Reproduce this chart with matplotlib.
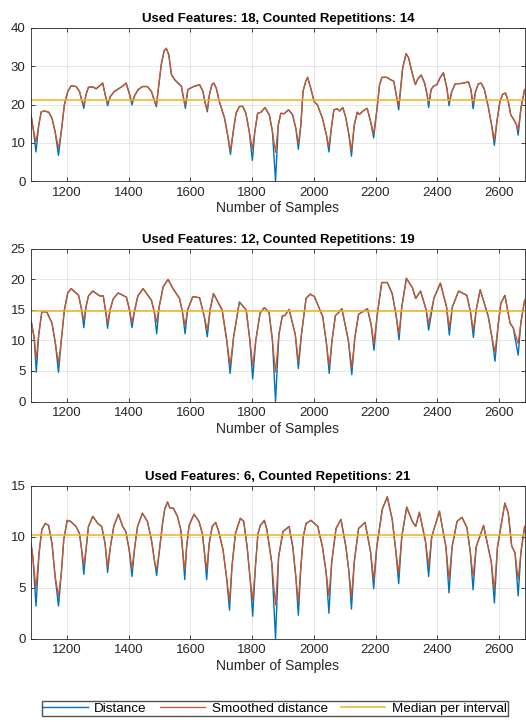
import matplotlib
matplotlib.use('agg')
from matplotlib import pyplot as plt

# panel 1: 18 features
p1_x = [1084, 1091, 1100, 1109, 1117, 1128, 1141, 1152, 1162, 1173, 1182, 1192, 1203, 1214,
        1230, 1241, 1248, 1255, 1262, 1270, 1284, 1295, 1305, 1316, 1324, 1332, 1341, 1354,
        1367, 1381, 1392, 1402, 1411, 1420, 1431, 1445, 1461, 1474, 1483, 1490, 1498, 1506,
        1515, 1522, 1530, 1539, 1549, 1560, 1571, 1579, 1584, 1592, 1608, 1630, 1641, 1648,
        1655, 1662, 1670, 1676, 1684, 1694, 1711, 1721, 1730, 1739, 1748, 1759, 1770, 1780,
        1791, 1801, 1809, 1818, 1829, 1842, 1856, 1866, 1876, 1885, 1893, 1904, 1918, 1931,
        1942, 1950, 1958, 1965, 1974, 1980, 1990, 2001, 2012, 2028, 2041, 2049, 2058, 2065,
        2076, 2084, 2094, 2103, 2114, 2122, 2131, 2141, 2148, 2159, 2173, 2184, 2194, 2205,
        2213, 2221, 2237, 2248, 2259, 2266, 2275, 2288, 2299, 2307, 2320, 2329, 2337, 2348,
        2359, 2367, 2372, 2380, 2388, 2399, 2409, 2420, 2431, 2438, 2447, 2458, 2479, 2501,
        2509, 2516, 2524, 2533, 2542, 2552, 2565, 2576, 2585, 2593, 2603, 2612, 2621, 2630,
        2638, 2649, 2657, 2662, 2671, 2683]
p1_smooth = [17.3, 13.7, 10.2, 14.6, 18.1, 18.3, 18.0, 16.4, 12.9, 8.5, 12.9, 19.9, 23.4, 24.9,
             24.7, 23.4, 21.2, 19.9, 22.6, 24.5, 24.6, 24.1, 24.8, 25.6, 22.6, 20.4, 22.1, 23.4,
             24.1, 24.8, 25.6, 23.0, 20.6, 22.4, 23.9, 24.7, 24.7, 23.4, 21.2, 19.9, 25.2, 30.5,
             34.0, 34.7, 33.1, 27.8, 26.5, 25.6, 24.8, 21.2, 19.9, 23.9, 24.6, 25.2, 23.4, 20.4,
             18.6, 22.6, 25.2, 25.6, 24.3, 20.8, 16.4, 12.0, 8.0, 12.9, 17.7, 19.5, 19.5, 17.7,
             12.9, 8.3, 12.9, 17.7, 18.0, 19.2, 17.3, 12.9, 7.5, 14.6, 17.7, 17.6, 18.6, 17.4,
             13.7, 9.8, 14.6, 23.4, 26.1, 27.1, 24.3, 20.8, 19.9, 16.4, 12.0, 8.9, 14.6, 18.6,
             18.9, 18.3, 19.2, 16.8, 12.0, 8.0, 14.6, 18.0, 17.4, 18.3, 19.0, 15.5, 12.4, 19.0,
             25.2, 27.1, 27.1, 26.5, 26.1, 23.0, 19.7, 29.6, 33.3, 32.2, 27.8, 25.2, 26.7, 27.7,
             25.6, 22.6, 20.6, 23.9, 24.8, 25.2, 27.0, 28.3, 24.3, 20.6, 23.4, 25.4, 25.5, 25.9,
             23.9, 20.4, 23.4, 25.4, 25.6, 24.1, 19.5, 14.6, 10.7, 15.5, 20.8, 22.7, 23.0, 20.8,
             17.3, 15.9, 14.6, 13.3, 19.0, 23.9]
p1_dist = [17.3, 13.7, 7.6, 14.6, 18.1, 18.3, 18.0, 16.4, 12.9, 6.7, 12.9, 19.9, 23.4, 24.9,
           24.7, 23.4, 21.2, 19.0, 22.6, 24.5, 24.6, 24.1, 24.8, 25.6, 22.6, 19.7, 22.1, 23.4,
           24.1, 24.8, 25.6, 23.0, 19.9, 22.4, 23.9, 24.7, 24.7, 23.4, 21.2, 19.4, 25.2, 30.5,
           34.0, 34.7, 33.1, 27.8, 26.5, 25.6, 24.8, 21.2, 19.0, 23.9, 24.6, 25.2, 23.4, 20.4,
           18.1, 22.6, 25.2, 25.6, 24.3, 20.8, 16.4, 12.0, 6.9, 12.9, 17.7, 19.5, 19.5, 17.7,
           12.9, 5.4, 12.9, 17.7, 18.0, 19.2, 17.3, 12.9, 0.0, 14.6, 17.7, 17.6, 18.6, 17.4,
           13.7, 8.3, 14.6, 23.4, 26.1, 27.1, 24.3, 20.8, 19.9, 16.4, 12.0, 7.6, 14.6, 18.6,
           18.9, 18.3, 19.2, 16.8, 12.0, 6.5, 14.6, 18.0, 17.4, 18.3, 19.0, 15.5, 11.3, 19.0,
           25.2, 27.1, 27.1, 26.5, 26.1, 23.0, 18.6, 29.6, 33.3, 32.2, 27.8, 25.2, 26.7, 27.7,
           25.6, 22.6, 19.2, 23.9, 24.8, 25.2, 27.0, 28.3, 24.3, 19.7, 23.4, 25.4, 25.5, 25.9,
           23.9, 18.9, 23.4, 25.4, 25.6, 24.1, 19.5, 14.6, 9.3, 15.5, 20.8, 22.7, 23.0, 20.8,
           17.3, 15.9, 14.6, 12.0, 19.0, 23.9]
p1_median = 21.2

# panel 2: 12 features
p2_x = [1085, 1094, 1101, 1109, 1119, 1135, 1152, 1163, 1173, 1182, 1192, 1203, 1214, 1238,
        1248, 1255, 1262, 1270, 1284, 1307, 1318, 1325, 1332, 1340, 1350, 1366, 1393, 1403,
        1411, 1420, 1430, 1447, 1474, 1484, 1491, 1499, 1512, 1528, 1544, 1565, 1575, 1583,
        1591, 1608, 1630, 1645, 1655, 1664, 1675, 1703, 1718, 1729, 1740, 1759, 1781, 1793,
        1802, 1812, 1826, 1840, 1855, 1866, 1876, 1887, 1898, 1906, 1920, 1940, 1950, 1960,
        1975, 1988, 2002, 2029, 2041, 2050, 2059, 2070, 2077, 2091, 2112, 2123, 2133, 2145,
        2174, 2186, 2195, 2205, 2220, 2238, 2254, 2267, 2276, 2285, 2300, 2319, 2330, 2346,
        2364, 2372, 2389, 2410, 2430, 2439, 2449, 2469, 2496, 2508, 2517, 2526, 2539, 2565,
        2577, 2587, 2597, 2606, 2619, 2636, 2646, 2662, 2671, 2683]
p2_smooth = [13.0, 10.5, 7.0, 11.0, 14.7, 14.7, 12.8, 9.5, 6.3, 10.0, 15.0, 17.8, 18.5, 17.4,
             15.0, 13.3, 15.5, 17.3, 18.1, 17.3, 17.3, 15.0, 12.8, 15.0, 16.8, 17.8, 17.1, 15.0,
             13.0, 15.0, 17.3, 18.5, 16.6, 14.5, 13.0, 15.5, 18.8, 20.0, 18.5, 16.9, 14.5, 12.5,
             15.0, 17.2, 17.0, 14.0, 11.7, 15.0, 17.7, 15.0, 10.0, 5.9, 10.5, 16.3, 15.0, 10.0,
             5.8, 10.0, 14.5, 15.4, 14.6, 10.0, 4.8, 11.0, 14.0, 14.1, 15.1, 11.0, 6.5, 11.0,
             16.9, 17.6, 17.2, 13.9, 9.5, 5.9, 10.0, 14.1, 14.4, 15.2, 10.0, 5.6, 10.5, 14.3,
             15.2, 12.5, 9.5, 14.0, 19.5, 19.5, 17.7, 14.0, 11.1, 15.5, 20.2, 18.7, 16.9, 18.1,
             15.0, 12.8, 16.9, 19.4, 15.5, 12.2, 15.5, 18.1, 17.4, 14.5, 11.7, 15.0, 18.3, 14.0,
             10.5, 8.1, 12.5, 16.1, 17.4, 12.8, 12.1, 9.5, 13.0, 16.6]
p2_dist = [13.0, 10.5, 4.8, 11.0, 14.7, 14.7, 12.8, 9.5, 4.8, 10.0, 15.0, 17.8, 18.5, 17.4,
           15.0, 12.1, 15.5, 17.3, 18.1, 17.3, 17.3, 15.0, 12.0, 15.0, 16.8, 17.8, 17.1, 15.0,
           12.1, 15.0, 17.3, 18.5, 16.6, 14.5, 11.1, 15.5, 18.8, 20.0, 18.5, 16.9, 14.5, 11.1,
           15.0, 17.2, 17.0, 14.0, 10.6, 15.0, 17.7, 15.0, 10.0, 4.6, 10.5, 16.3, 15.0, 10.0,
           3.7, 10.0, 14.5, 15.4, 14.6, 10.0, 0.0, 11.0, 14.0, 14.1, 15.1, 11.0, 5.4, 11.0,
           16.9, 17.6, 17.2, 13.9, 9.5, 4.6, 10.0, 14.1, 14.4, 15.2, 10.0, 4.4, 10.5, 14.3,
           15.2, 12.5, 8.4, 14.0, 19.5, 19.5, 17.7, 14.0, 10.1, 15.5, 20.2, 18.7, 16.9, 18.1,
           15.0, 11.7, 16.9, 19.4, 15.5, 10.9, 15.5, 18.1, 17.4, 14.5, 10.5, 15.0, 18.3, 14.0,
           10.5, 6.6, 12.5, 16.1, 17.4, 12.8, 12.1, 7.6, 13.0, 16.6]
p2_median = 14.9

# panel 3: 6 features
p3_x = [1084, 1090, 1100, 1110, 1119, 1130, 1141, 1152, 1162, 1173, 1182, 1190, 1201, 1212,
        1230, 1241, 1248, 1255, 1262, 1270, 1284, 1300, 1313, 1324, 1332, 1341, 1352, 1367,
        1381, 1391, 1402, 1411, 1420, 1429, 1445, 1461, 1474, 1485, 1491, 1500, 1510, 1517,
        1526, 1534, 1545, 1558, 1569, 1575, 1582, 1588, 1596, 1612, 1628, 1639, 1646, 1653,
        1661, 1671, 1682, 1692, 1706, 1717, 1727, 1735, 1746, 1762, 1773, 1784, 1794, 1802,
        1811, 1819, 1827, 1840, 1848, 1864, 1876, 1886, 1900, 1920, 1932, 1942, 1950, 1958,
        1966, 1975, 1991, 2013, 2028, 2040, 2049, 2058, 2072, 2088, 2104, 2114, 2122, 2131,
        2145, 2166, 2184, 2194, 2204, 2222, 2238, 2254, 2266, 2275, 2285, 2301, 2319, 2330,
        2342, 2362, 2372, 2382, 2407, 2428, 2438, 2448, 2464, 2480, 2496, 2507, 2516, 2526,
        2550, 2575, 2585, 2595, 2619, 2630, 2641, 2652, 2662, 2671, 2683]
p3_smooth = [9.3, 8.0, 4.9, 8.4, 10.7, 11.3, 11.1, 9.3, 6.1, 4.2, 6.4, 9.7, 11.6, 11.5,
             11.0, 10.3, 8.7, 7.2, 8.7, 11.0, 12.0, 11.3, 11.0, 9.3, 7.0, 9.0, 11.0, 12.2,
             11.0, 10.5, 8.7, 6.9, 9.0, 11.0, 12.3, 11.5, 9.7, 7.4, 6.8, 8.7, 11.3, 12.7,
             13.4, 12.8, 12.8, 12.0, 10.7, 8.7, 6.7, 9.0, 11.1, 12.2, 11.5, 10.3, 8.4, 6.8,
             9.3, 11.0, 11.4, 10.5, 8.7, 6.1, 3.7, 7.1, 10.3, 11.8, 11.5, 9.0, 5.8, 3.8,
             7.1, 10.3, 11.1, 11.6, 10.7, 7.4, 3.3, 8.0, 10.5, 11.0, 9.0, 6.0, 3.6, 7.0,
             10.0, 11.3, 11.6, 11.0, 9.0, 6.5, 4.2, 7.5, 10.8, 11.7, 9.0, 6.5, 4.1, 7.5,
             10.8, 11.4, 8.5, 5.8, 9.0, 12.7, 13.9, 11.7, 8.5, 6.4, 10.0, 12.9, 11.5, 11.0,
             12.4, 9.5, 7.2, 10.0, 12.5, 9.0, 5.9, 9.0, 11.5, 11.9, 10.9, 8.5, 6.1, 9.0,
             11.1, 7.5, 4.8, 9.0, 13.3, 12.3, 9.1, 8.4, 5.8, 8.5, 11.0]
p3_dist = [9.3, 8.0, 3.2, 8.4, 10.7, 11.3, 11.1, 9.3, 6.1, 3.2, 6.4, 9.7, 11.6, 11.5,
           11.0, 10.3, 8.7, 6.3, 8.7, 11.0, 12.0, 11.3, 11.0, 9.3, 6.5, 9.0, 11.0, 12.2,
           11.0, 10.5, 8.7, 6.1, 9.0, 11.0, 12.3, 11.5, 9.7, 7.4, 6.2, 8.7, 11.3, 12.7,
           13.4, 12.8, 12.8, 12.0, 10.7, 8.7, 5.8, 9.0, 11.1, 12.2, 11.5, 10.3, 8.4, 5.8,
           9.3, 11.0, 11.4, 10.5, 8.7, 6.1, 2.8, 7.1, 10.3, 11.8, 11.5, 9.0, 5.8, 2.2,
           7.1, 10.3, 11.1, 11.6, 10.7, 7.4, 0.0, 8.0, 10.5, 11.0, 9.0, 6.0, 2.3, 7.0,
           10.0, 11.3, 11.6, 11.0, 9.0, 6.5, 2.5, 7.5, 10.8, 11.7, 9.0, 6.5, 2.9, 7.5,
           10.8, 11.4, 8.5, 4.9, 9.0, 12.7, 13.9, 11.7, 8.5, 5.4, 10.0, 12.9, 11.5, 11.0,
           12.4, 9.5, 6.1, 10.0, 12.5, 9.0, 4.5, 9.0, 11.5, 11.9, 10.9, 8.5, 4.8, 9.0,
           11.1, 7.5, 3.5, 9.0, 13.3, 12.3, 9.1, 8.4, 4.2, 8.5, 11.0]
p3_median = 10.2

titles = ['Used Features: 18, Counted Repetitions: 14',
          'Used Features: 12, Counted Repetitions: 19',
          'Used Features: 6, Counted Repetitions: 21']
y_limits = [40, 25, 15]
y_steps = [10, 5, 5]
x_ticks = [1200, 1400, 1600, 1800, 2000, 2200, 2400, 2600]
x_range = (1084, 2684)

plt.rcParams['font.family'] = ['Liberation Sans', 'DejaVu Sans']

fig = plt.figure(figsize=(5.26, 7.25), dpi=100)
boxes = [[0.059, 0.7503, 0.939, 0.2111],
         [0.059, 0.4462, 0.939, 0.2104],
         [0.059, 0.1190, 0.939, 0.2111]]
panels = [(p1_x, p1_dist, p1_smooth, p1_median),
          (p2_x, p2_dist, p2_smooth, p2_median),
          (p3_x, p3_dist, p3_smooth, p3_median)]

for i, (xs, dist, smooth, med) in enumerate(panels):
    ax = fig.add_axes(boxes[i])
    l1, = ax.plot(xs, dist, color='#0072BD', lw=1.0, label='Distance')
    l2, = ax.plot(xs, smooth, color='#D95319', lw=0.9, label='Smoothed distance')
    l3, = ax.plot(x_range, [med, med], color='#EDB120', lw=1.1, label='Median per interval')
    ax.set_xlim(*x_range)
    ax.set_ylim(0, y_limits[i])
    ax.set_xticks(x_ticks)
    ax.set_yticks(range(0, y_limits[i] + 1, y_steps[i]))
    ax.grid(True, color='#262626', alpha=0.13, lw=0.6)
    ax.set_axisbelow(True)
    for s in ax.spines.values():
        s.set_color('#262626')
        s.set_linewidth(0.6)
    ax.tick_params(direction='in', length=3, width=0.6, top=True, right=True,
                   labelsize=9.5, colors='#262626', pad=4)
    ax.set_title(titles[i], fontsize=9.5, fontweight='bold', pad=4, color='black')
    ax.set_xlabel('Number of Samples', fontsize=10, color='#262626', labelpad=2)

fig.legend(handles=[l1, l2, l3], loc='center', bbox_to_anchor=(0.523, 0.0225),
           ncol=3, fontsize=9.7, frameon=True, fancybox=False, edgecolor='#262626',
           handlelength=3.3, handletextpad=0.5, columnspacing=1.0, borderpad=0.1,
           borderaxespad=0)
fig.savefig('out.png', dpi=100)
